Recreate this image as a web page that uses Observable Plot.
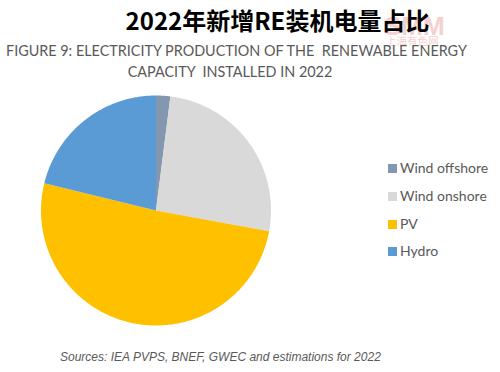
<!DOCTYPE html>
<html>
<head>
<meta charset="utf-8">
<script src="https://cdn.jsdelivr.net/npm/d3@7"></script>
<script src="https://cdn.jsdelivr.net/npm/@observablehq/plot@0.6"></script>
<style>
  html, body { margin: 0; padding: 0; background: #fff; }
  #wrap { position: relative; width: 500px; height: 372px; overflow: hidden; }
  #chart { position: absolute; left: 0; top: 0; }
  .t { position: absolute; white-space: pre; line-height: 1; }
  #title { left: 0; width: 555px; text-align: center; top: 2px; font: bold 24px "Noto Sans CJK SC", sans-serif; color: #000; }
  .sub { left: 0; width: 460px; text-align: center; font: 14.4px Lato, "Open Sans", sans-serif; color: #595959; }
  #caption { left: 60px; top: 350px; font: italic 12px "Liberation Sans", Arial, sans-serif; color: #595959; }
  .leg { position: absolute; left: 388px; font: 14px Lato, "Open Sans", sans-serif; color: #595959; line-height: 1; }
  .leg span.sw { display: inline-block; width: 9px; height: 9px; margin-right: 3px; vertical-align: 0px; }
  .wm { position: absolute; color: #f3c0c0; opacity: 0.75; }
</style>
</head>
<body>
<div id="wrap">
  <div id="chart"></div>
</div>
<script>
// Data
const categories = ["Wind offshore", "Wind onshore", "PV", "Hydro"];
const shares = [2.0, 25.9, 50.9, 21.2];
const colors = ["#8497B0", "#D9D9D9", "#FFC000", "#5B9BD5"];
const titleText = "2022年新增RE装机电量占比";
const subtitleLines = ["FIGURE 9: ELECTRICITY PRODUCTION OF THE  RENEWABLE ENERGY", "CAPACITY  INSTALLED IN 2022"];
const captionText = "Sources: IEA PVPS, BNEF, GWEC and estimations for 2022";

const data = categories.map((name, i) => ({name, value: shares[i]}));

// Pie geometry from d3.pie (clockwise from 12 o'clock)
const arcs = d3.pie().sort(null).value(d => d.value)(data);
const pts = [];
for (const a of arcs) {
  const n = Math.max(4, Math.ceil((a.endAngle - a.startAngle) / 0.01));
  pts.push({name: a.data.name, x: 0, y: 0});
  for (let k = 0; k <= n; k++) {
    const t = a.startAngle + (a.endAngle - a.startAngle) * k / n;
    pts.push({name: a.data.name, x: Math.sin(t), y: Math.cos(t)});
  }
  pts.push({name: a.data.name, x: 0, y: 0});
}

const plot = Plot.plot({
  width: 500,
  height: 372,
  marginLeft: 40.5,
  marginRight: 229.5,
  marginTop: 95,
  marginBottom: 47,
  x: {domain: [-1, 1], axis: null},
  y: {domain: [-1, 1], axis: null},
  color: {domain: categories, range: colors},
  marks: categories.map((c, i) =>
    Plot.line(pts.filter(p => p.name === c), {x: "x", y: "y", fill: colors[i], stroke: "none", curve: "linear"})
  )
});
document.getElementById("chart").appendChild(plot);

const wrap = document.getElementById("wrap");
function addDiv(cls, id, text, styles) {
  const d = document.createElement("div");
  d.className = cls;
  if (id) d.id = id;
  d.textContent = text;
  Object.assign(d.style, styles || {});
  wrap.appendChild(d);
  return d;
}
// watermark
addDiv("t wm", null, "SMM", {left: "384px", top: "11px", font: "bold 26px 'Liberation Sans', sans-serif"});
addDiv("t wm", null, "上海有色网", {left: "386px", top: "33px", font: "10.5px 'Noto Sans CJK SC', sans-serif"});

addDiv("t", "title", titleText);
addDiv("t sub", null, subtitleLines[0], {top: "42px", left: "6px"});
addDiv("t sub", null, subtitleLines[1], {top: "63px", left: "0px"});
addDiv("t", "caption", captionText);

const legTops = [161, 189, 217, 244];
categories.forEach((c, i) => {
  const d = document.createElement("div");
  d.className = "leg";
  d.style.top = legTops[i] + "px";
  const sw = document.createElement("span");
  sw.className = "sw";
  sw.style.background = colors[i];
  d.appendChild(sw);
  d.appendChild(document.createTextNode(c));
  wrap.appendChild(d);
});
</script>
</body>
</html>
